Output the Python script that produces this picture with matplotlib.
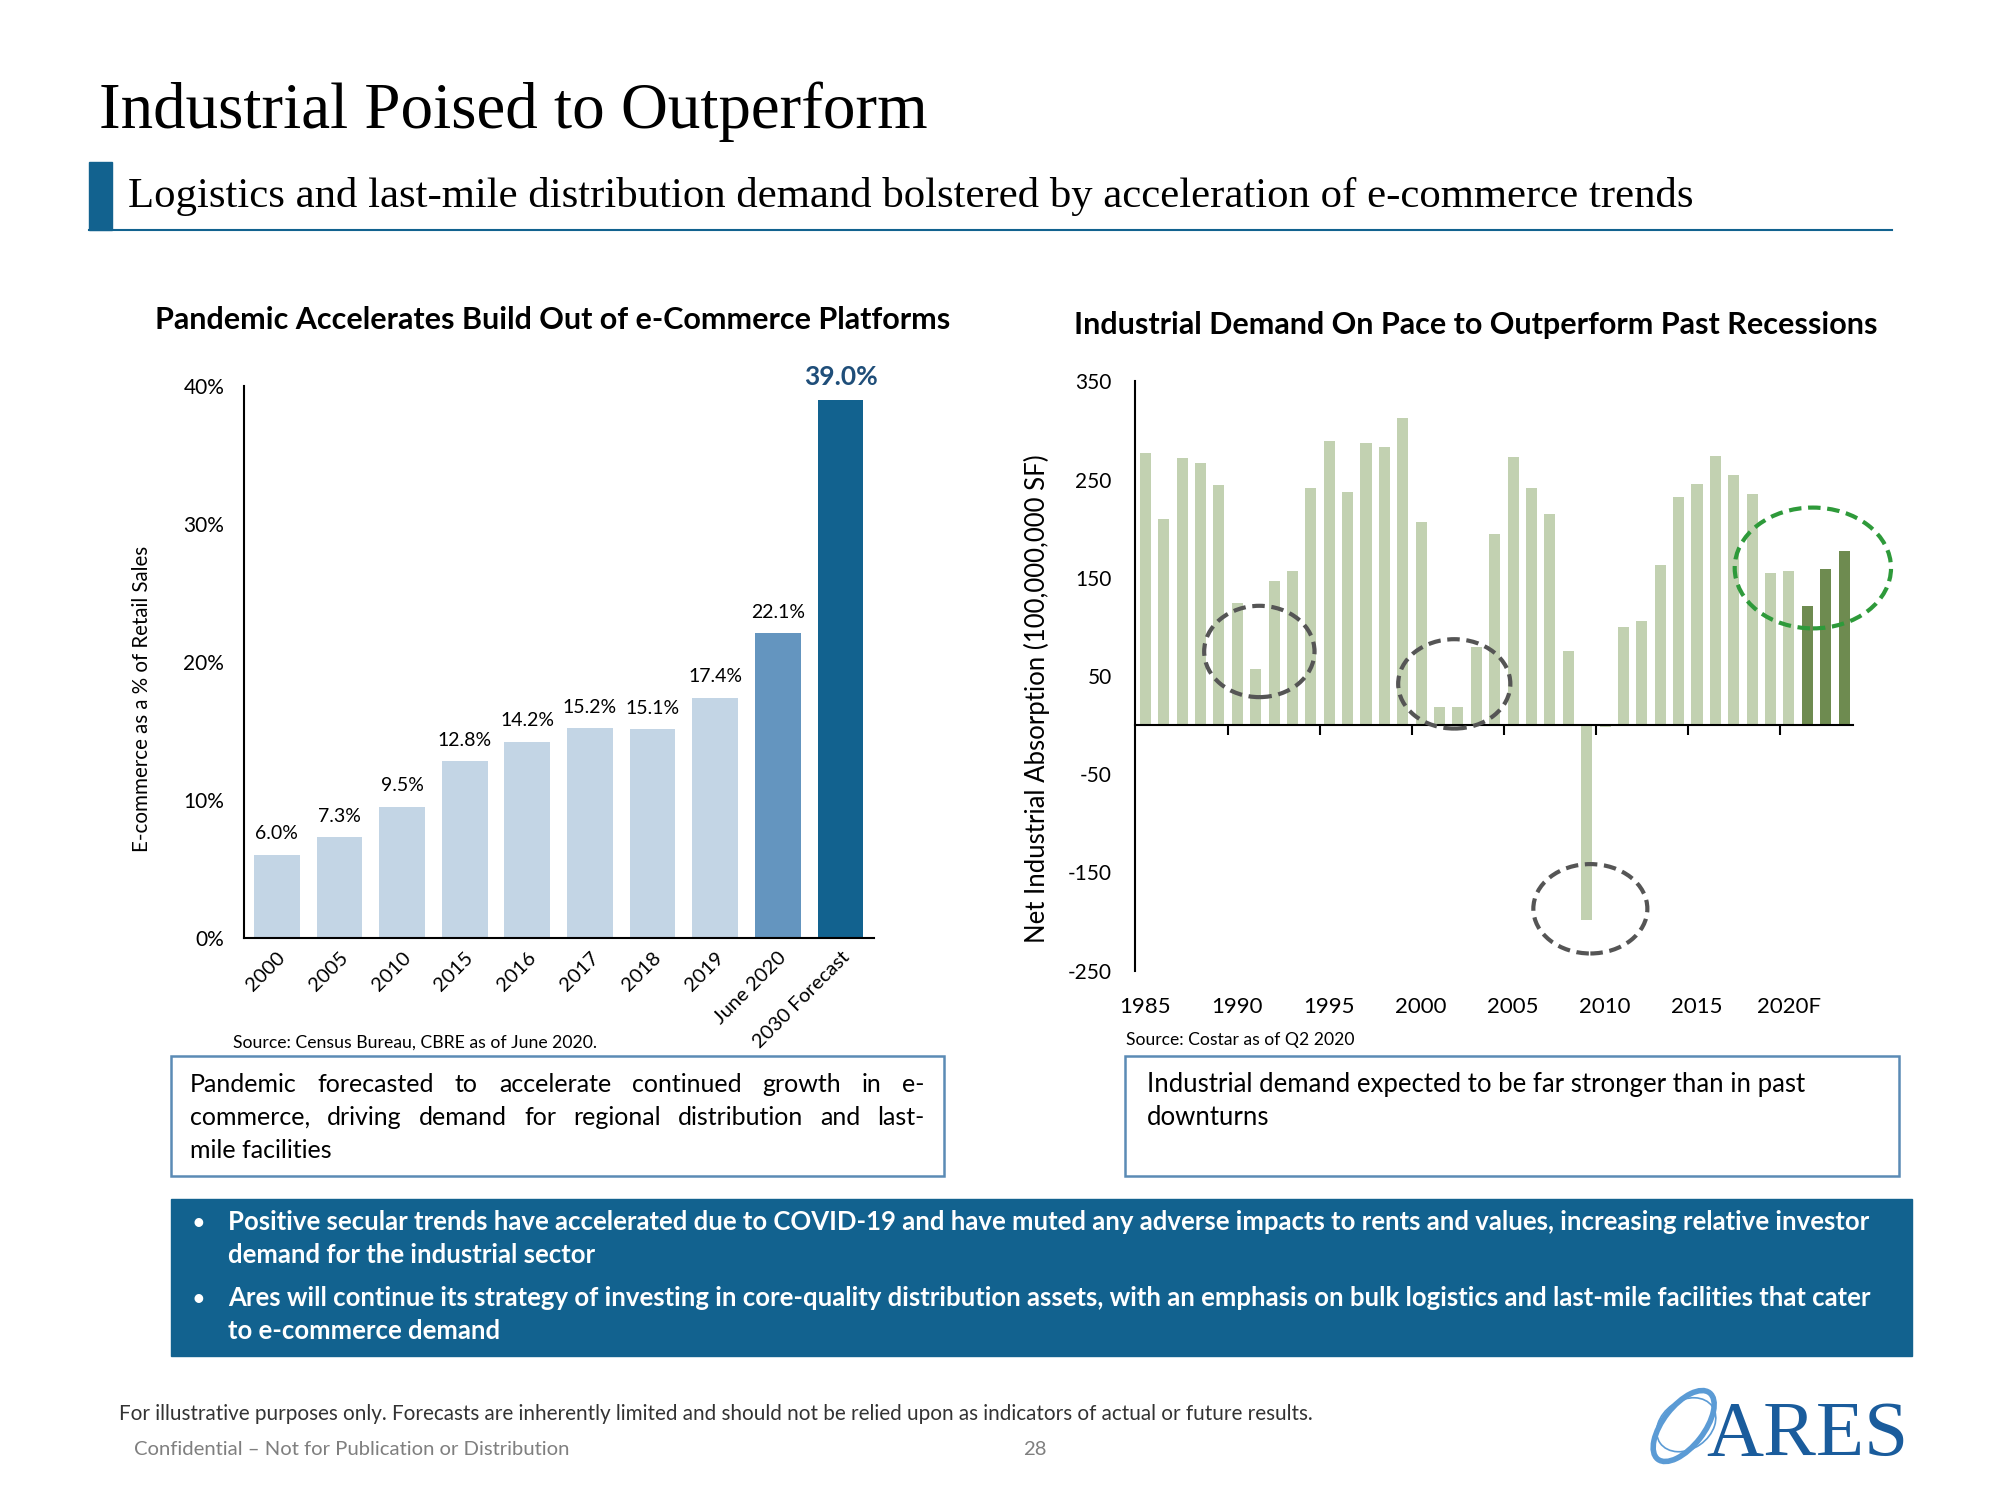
import matplotlib.pyplot as plt
from matplotlib.patches import Rectangle, Ellipse

# slide is laid out in 1568 x 1176 "page" units (same aspect as the 2000x1500 output)
W, H = 1568, 1176

# Left chart: e-commerce share of retail sales
periods = ["2000", "2005", "2010", "2015", "2016", "2017", "2018", "2019", "June 2020", "2030 Forecast"]
share = [6.0, 7.3, 9.5, 12.8, 14.2, 15.2, 15.1, 17.4, 22.1, 39.0]
share_colors = ["#c3d5e5"] * 8 + ["#6495bf", "#12628f"]

# Right chart: net industrial absorption (100,000,000 SF)
years = list(range(1985, 2024))
absorption = [277, 210, 272, 267, 245, 124, 57, 147, 157, 241,
              289, 237, 287, 283, 313, 207, 18, 18, 80, 195,
              273, 241, 215, 75, -198, -2, 100, 106, 163, 232,
              246, 274, 255, 235, 155, 157, 121, 159, 177]
forecast = [y >= 2021 for y in years]
year_labels = ["1985", "1990", "1995", "2000", "2005", "2010", "2015", "2020F"]

SANS = ["Lato", "DejaVu Sans"]
SERIF = ["Liberation Serif", "DejaVu Serif"]
BLUE = "#12628f"

plt.rcParams["font.family"] = SANS
plt.rcParams["axes.unicode_minus"] = False

fig = plt.figure(figsize=(20, 15), dpi=100)
renderer = fig.canvas.get_renderer()

bg = fig.add_axes([0, 0, 1, 1])
bg.set_xlim(0, W)
bg.set_ylim(H, 0)
bg.axis("off")


def box(x0, y0, x1, y1):
    return [x0 / W, 1 - y1 / H, (x1 - x0) / W, (y1 - y0) / H]


def justified(x0, x1, y, line, **kw):
    # spread the words of one line evenly between x0 and x1
    words = line.split()
    texts = [bg.text(x0, y, w, va="baseline", **kw) for w in words]
    widths = [t.get_window_extent(renderer).width * W / fig.bbox.width for t in texts]
    gap = (x1 - x0 - sum(widths)) / (len(words) - 1)
    x = x0
    for t, wd in zip(texts, widths):
        t.set_x(x)
        x += wd + gap


# ---- header
bg.text(78, 100, "Industrial Poised to Outperform", family=SERIF, fontsize=46.8, va="baseline")
bg.add_patch(Rectangle((70, 127), 18, 53, color=BLUE))
bg.plot([70, 1483], [180, 180], color=BLUE, lw=1.5)
bg.text(100, 162, "Logistics and last-mile distribution demand bolstered by acceleration of e-commerce trends",
        family=SERIF, fontsize=30.8, va="baseline")

# ---- left chart
bg.text(433, 258, "Pandemic Accelerates Build Out of e-Commerce Platforms", fontsize=22,
        fontweight="bold", ha="center", va="baseline")

ax1 = fig.add_axes(box(191, 303, 685, 735))
x1 = list(range(len(periods)))
ax1.bar(x1, share, width=0.73, color=share_colors)
ax1.set_xlim(-0.53, 9.53)
ax1.set_ylim(0, 40)
ax1.set_yticks([0, 10, 20, 30, 40])
ax1.set_yticklabels(["0%", "10%", "20%", "30%", "40%"])
ax1.tick_params(axis="y", length=0, pad=14, labelsize=15)
ax1.set_xticks(x1)
ax1.set_xticklabels(periods, rotation=45, ha="right", rotation_mode="anchor")
ax1.tick_params(axis="x", length=0, pad=8, labelsize=14.5)
for s in ["top", "right"]:
    ax1.spines[s].set_visible(False)
ax1.spines["left"].set_linewidth(1.5)
ax1.spines["bottom"].set_linewidth(1.5)
ax1.set_ylabel("E-commerce as a % of Retail Sales", fontsize=14.8)
ax1.yaxis.set_label_coords(-0.145, 0.433)
for i, v in enumerate(share):
    if i == len(share) - 1:
        ax1.text(i, v + 0.8, f"{v:.1f}%", ha="center", va="bottom", fontsize=19,
                 fontweight="bold", color="#1f4e79")
    else:
        ax1.text(i, v + 0.9, f"{v:.1f}%", ha="center", va="bottom", fontsize=14)

bg.text(183, 821, "Source: Census Bureau, CBRE as of June 2020.", fontsize=12.7, va="baseline")

# ---- right chart
bg.text(1157, 262, "Industrial Demand On Pace to Outperform Past Recessions", fontsize=22,
        fontweight="bold", ha="center", va="baseline")

ax2 = fig.add_axes(box(890, 299, 1453, 761))
x2 = list(range(len(years)))
colors2 = ["#6e8b50" if f else "#c2d1b1" for f in forecast]
ax2.bar(x2, absorption, width=0.6, color=colors2)
ax2.set_xlim(-0.55, 38.5)
ax2.set_ylim(-250, 350)
ax2.set_yticks([350, 250, 150, 50, -50, -150, -250])
ax2.tick_params(axis="y", length=0, pad=17, labelsize=15)
ax2.set_xticks([4.5 + 5 * k for k in range(7)])
ax2.set_xticklabels([])
ax2.tick_params(axis="x", length=7, width=1.5, direction="out")
for s in ["top", "right"]:
    ax2.spines[s].set_visible(False)
ax2.spines["bottom"].set_position(("data", 0))
ax2.spines["left"].set_linewidth(1.5)
ax2.spines["bottom"].set_linewidth(1.5)
ax2.set_ylabel("Net Industrial Absorption (100,000,000 SF)", fontsize=18.5)
ax2.yaxis.set_label_coords(-0.118, 0.461)
for k, lab in enumerate(year_labels):
    ax2.text(5 * k, -0.045, lab, transform=ax2.get_xaxis_transform(), ha="center", va="top",
             fontsize=16)

# recession circles
for cx, cy, w, h in [(6.2, 75, 6.0, 93), (16.8, 42, 6.1, 91), (24.2, -187, 6.2, 91)]:
    ax2.add_patch(Ellipse((cx, cy), w, h, fill=False, ec="#555555", lw=3, ls=(0, (3, 1.6)),
                          clip_on=False, zorder=3))
ax2.add_patch(Ellipse((36.3, 160), 8.5, 123, fill=False, ec="#2e9a3a", lw=3, ls=(0, (3, 1.6)),
                      clip_on=False, zorder=3))

bg.text(883, 819, "Source: Costar as of Q2 2020", fontsize=12.6, va="baseline")

# ---- commentary boxes
bg.add_patch(Rectangle((134, 828), 606, 94, fill=False, ec="#5b8bb5", lw=1.8))
justified(149, 725, 856, "Pandemic forecasted to accelerate continued growth in e-", fontsize=18)
justified(149, 725, 882, "commerce, driving demand for regional distribution and last-", fontsize=18)
bg.text(149, 908, "mile facilities", fontsize=18, va="baseline")

bg.add_patch(Rectangle((882, 828), 607, 94, fill=False, ec="#5b8bb5", lw=1.8))
for k, line in enumerate(["Industrial demand expected to be far stronger than in past",
                          "downturns"]):
    bg.text(899, 856 + 26 * k, line, fontsize=18.5, va="baseline")

# ---- key takeaways banner
bg.add_patch(Rectangle((134, 940), 1365, 123, color=BLUE))
bullets = [
    ["Positive secular trends have accelerated due to COVID-19 and have muted any adverse impacts to rents and values, increasing relative investor",
     "demand for the industrial sector"],
    ["Ares will continue its strategy of investing in core-quality distribution assets, with an emphasis on bulk logistics and last-mile facilities that cater",
     "to e-commerce demand"],
]
for top_y, lines in zip([964, 1024], bullets):
    bg.text(150, top_y, "\u2022", color="white", fontsize=17, va="baseline")
    for k, line in enumerate(lines):
        bg.text(179, top_y + 26 * k, line, color="white", fontsize=18.55, fontweight="bold", va="baseline")

# ---- footer
bg.text(93, 1113, "For illustrative purposes only. Forecasts are inherently limited and should not be relied upon as indicators of actual or future results.",
        fontsize=14.9, color="#333333", va="baseline")
bg.text(105, 1141, "Confidential \u2013 Not for Publication or Distribution", fontsize=14.6,
        color="#7f7f7f", va="baseline")
bg.text(811, 1141, "28", fontsize=14.6, color="#7f7f7f", ha="center", va="baseline")

# ---- logo
bg.add_patch(Ellipse((1320, 1118), 66, 32, angle=-52, fill=False, ec="#5b9bd5", lw=4))
bg.add_patch(Ellipse((1322, 1117), 50, 38, angle=-35, fill=False, ec="#5b9bd5", lw=1.2))
bg.text(1338, 1141, "ARES", family=SERIF, fontsize=57, color="#1a5c9c", va="baseline")

fig.savefig("out.png", dpi=100)
